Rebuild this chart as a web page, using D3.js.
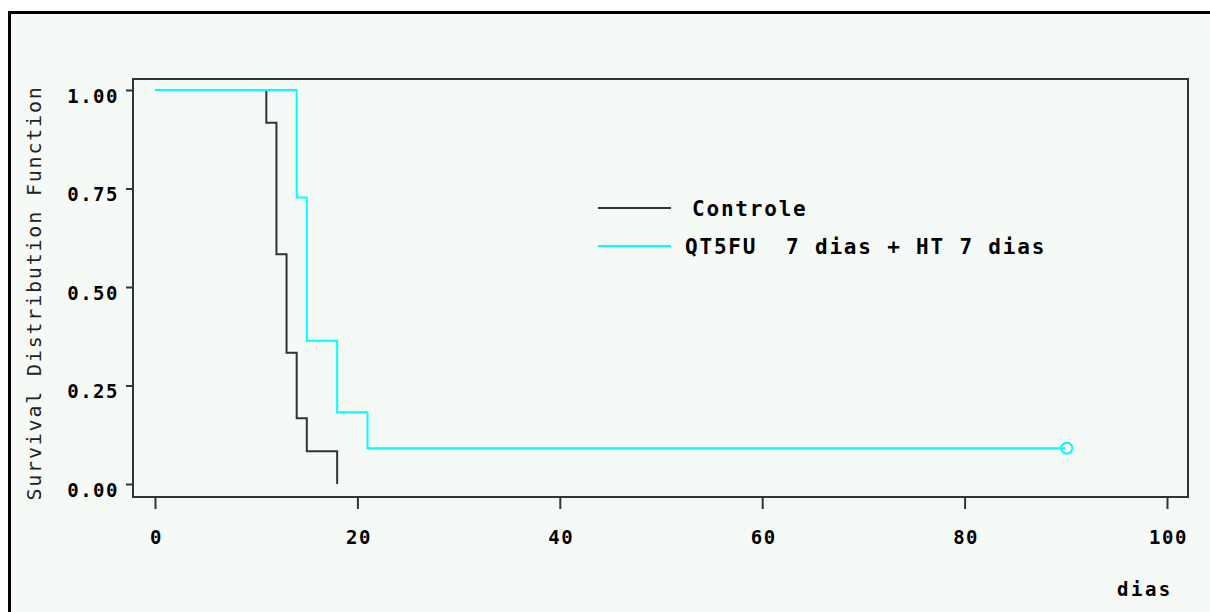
<!doctype html>
<html lang="en">

<head>
  <meta charset="utf-8">
  <title>Survival Distribution Function</title>
  <style>
    body {
      margin: 0;
      background: #ffffff;
    }

    #chart {
      width: 1210px;
      height: 612px;
    }

    .tick-label {
      font-family: "DejaVu Sans Mono", monospace;
      font-weight: bold;
      font-size: 19px;
      letter-spacing: 1.5px;
      fill: #000;
    }

    .legend-label {
      font-family: "DejaVu Sans Mono", monospace;
      font-weight: bold;
      font-size: 21px;
      letter-spacing: 1.8px;
      fill: #000;
    }
  </style>
</head>

<body>
  <div id="chart"></div>

  <script src="https://d3js.org/d3.v7.min.js"></script>
  <script>
    // Kaplan-Meier steps
    const controleTime = [0, 11, 12, 13, 14, 15, 18];
    const controleSurv = [1, 0.9167, 0.5833, 0.3333, 0.1667, 0.0833, 0];

    const qtTime = [0, 14, 15, 18, 21, 90];
    const qtSurv = [1, 0.7273, 0.3636, 0.1818, 0.0909, 0.0909];

    // censored observation
    const censorTime = [90];
    const censorSurv = [0.0909];

    const xTicks = [0, 20, 40, 60, 80, 100];
    const yTicks = [0, 0.25, 0.5, 0.75, 1];

    const seriesNames = ['Controle', 'QT5FU  7 dias + HT 7 dias'];
    const seriesColors = ['#333333', '#00ffff'];

    const width = 1210;
    const height = 612;

    const svg = d3.select('#chart')
      .append('svg')
      .attr('width', width)
      .attr('height', height);

    // page background + outer frame (only top and left edges show)
    svg.append('rect')
      .attr('x', 9).attr('y', 12)
      .attr('width', width).attr('height', height)
      .attr('fill', '#f6faf7');
    svg.append('path')
      .attr('d', `M9.5,${height} V12.5 H${width}`)
      .attr('fill', 'none')
      .attr('stroke', '#000')
      .attr('stroke-width', 3);

    const x = d3.scaleLinear().domain([0, 100]).range([155, 1167]);
    const y = d3.scaleLinear().domain([0, 1]).range([484, 90]);

    // plot frame
    svg.append('rect')
      .attr('x', 133).attr('y', 79)
      .attr('width', 1188 - 133).attr('height', 497 - 79)
      .attr('fill', 'none')
      .attr('stroke', '#333')
      .attr('stroke-width', 2);

    // x axis
    const xAxis = svg.append('g')
      .attr('transform', 'translate(0,497)')
      .call(d3.axisBottom(x).tickValues(xTicks).tickSize(12).tickFormat(d3.format('d')));
    xAxis.select('.domain').remove();
    xAxis.selectAll('line').attr('stroke', '#333').attr('stroke-width', 2);
    xAxis.selectAll('text')
      .attr('class', 'tick-label')
      .attr('y', 47)
      .attr('dy', null)
      .attr('dx', 1);

    // y axis
    const yAxis = svg.append('g')
      .attr('transform', 'translate(133,0)')
      .call(d3.axisLeft(y).tickValues(yTicks).tickSize(7).tickFormat(d3.format('.2f')));
    yAxis.select('.domain').remove();
    yAxis.selectAll('line').attr('stroke', '#333').attr('stroke-width', 2);
    yAxis.selectAll('text')
      .attr('class', 'tick-label')
      .attr('x', -14)
      .attr('dy', 12);

    // axis titles
    svg.append('text')
      .attr('transform', 'translate(41,293) rotate(-90)')
      .attr('text-anchor', 'middle')
      .style('font-family', '"DejaVu Sans Mono", monospace')
      .style('font-size', '20px')
      .style('letter-spacing', '1.8px')
      .attr('fill', '#222')
      .text('Survival Distribution Function');

    svg.append('text')
      .attr('x', 1117).attr('y', 596)
      .style('font-family', '"DejaVu Sans Mono", monospace')
      .style('font-weight', 'bold')
      .style('font-size', '19px')
      .style('letter-spacing', '2.5px')
      .attr('fill', '#000')
      .text('dias');

    // survival curves
    const line = d3.line()
      .x(d => x(d[0]))
      .y(d => y(d[1]))
      .curve(d3.curveStepAfter);

    svg.append('path')
      .datum(d3.zip(controleTime, controleSurv))
      .attr('d', line)
      .attr('fill', 'none')
      .attr('stroke', seriesColors[0])
      .attr('stroke-width', 2);

    svg.append('path')
      .datum(d3.zip(qtTime, qtSurv))
      .attr('d', line)
      .attr('fill', 'none')
      .attr('stroke', seriesColors[1])
      .attr('stroke-width', 2);

    svg.selectAll('.censor')
      .data(d3.zip(censorTime, censorSurv))
      .join('circle')
      .attr('class', 'censor')
      .attr('cx', d => x(d[0]) + 1)
      .attr('cy', d => y(d[1]))
      .attr('r', 5.5)
      .attr('fill', 'none')
      .attr('stroke', seriesColors[1])
      .attr('stroke-width', 2);

    // legend
    const legendY = [208, 246];
    const legendTextX = [692, 685];
    const legend = svg.append('g')
      .selectAll('g')
      .data(seriesNames)
      .join('g');

    legend.append('line')
      .attr('x1', 598).attr('x2', 671)
      .attr('y1', (d, i) => legendY[i])
      .attr('y2', (d, i) => legendY[i])
      .attr('stroke', (d, i) => seriesColors[i])
      .attr('stroke-width', 2);

    legend.append('text')
      .attr('class', 'legend-label')
      .attr('x', (d, i) => legendTextX[i])
      .attr('y', (d, i) => legendY[i] + 8)
      .style('white-space', 'pre')
      .text(d => d);
  </script>
</body>

</html>
